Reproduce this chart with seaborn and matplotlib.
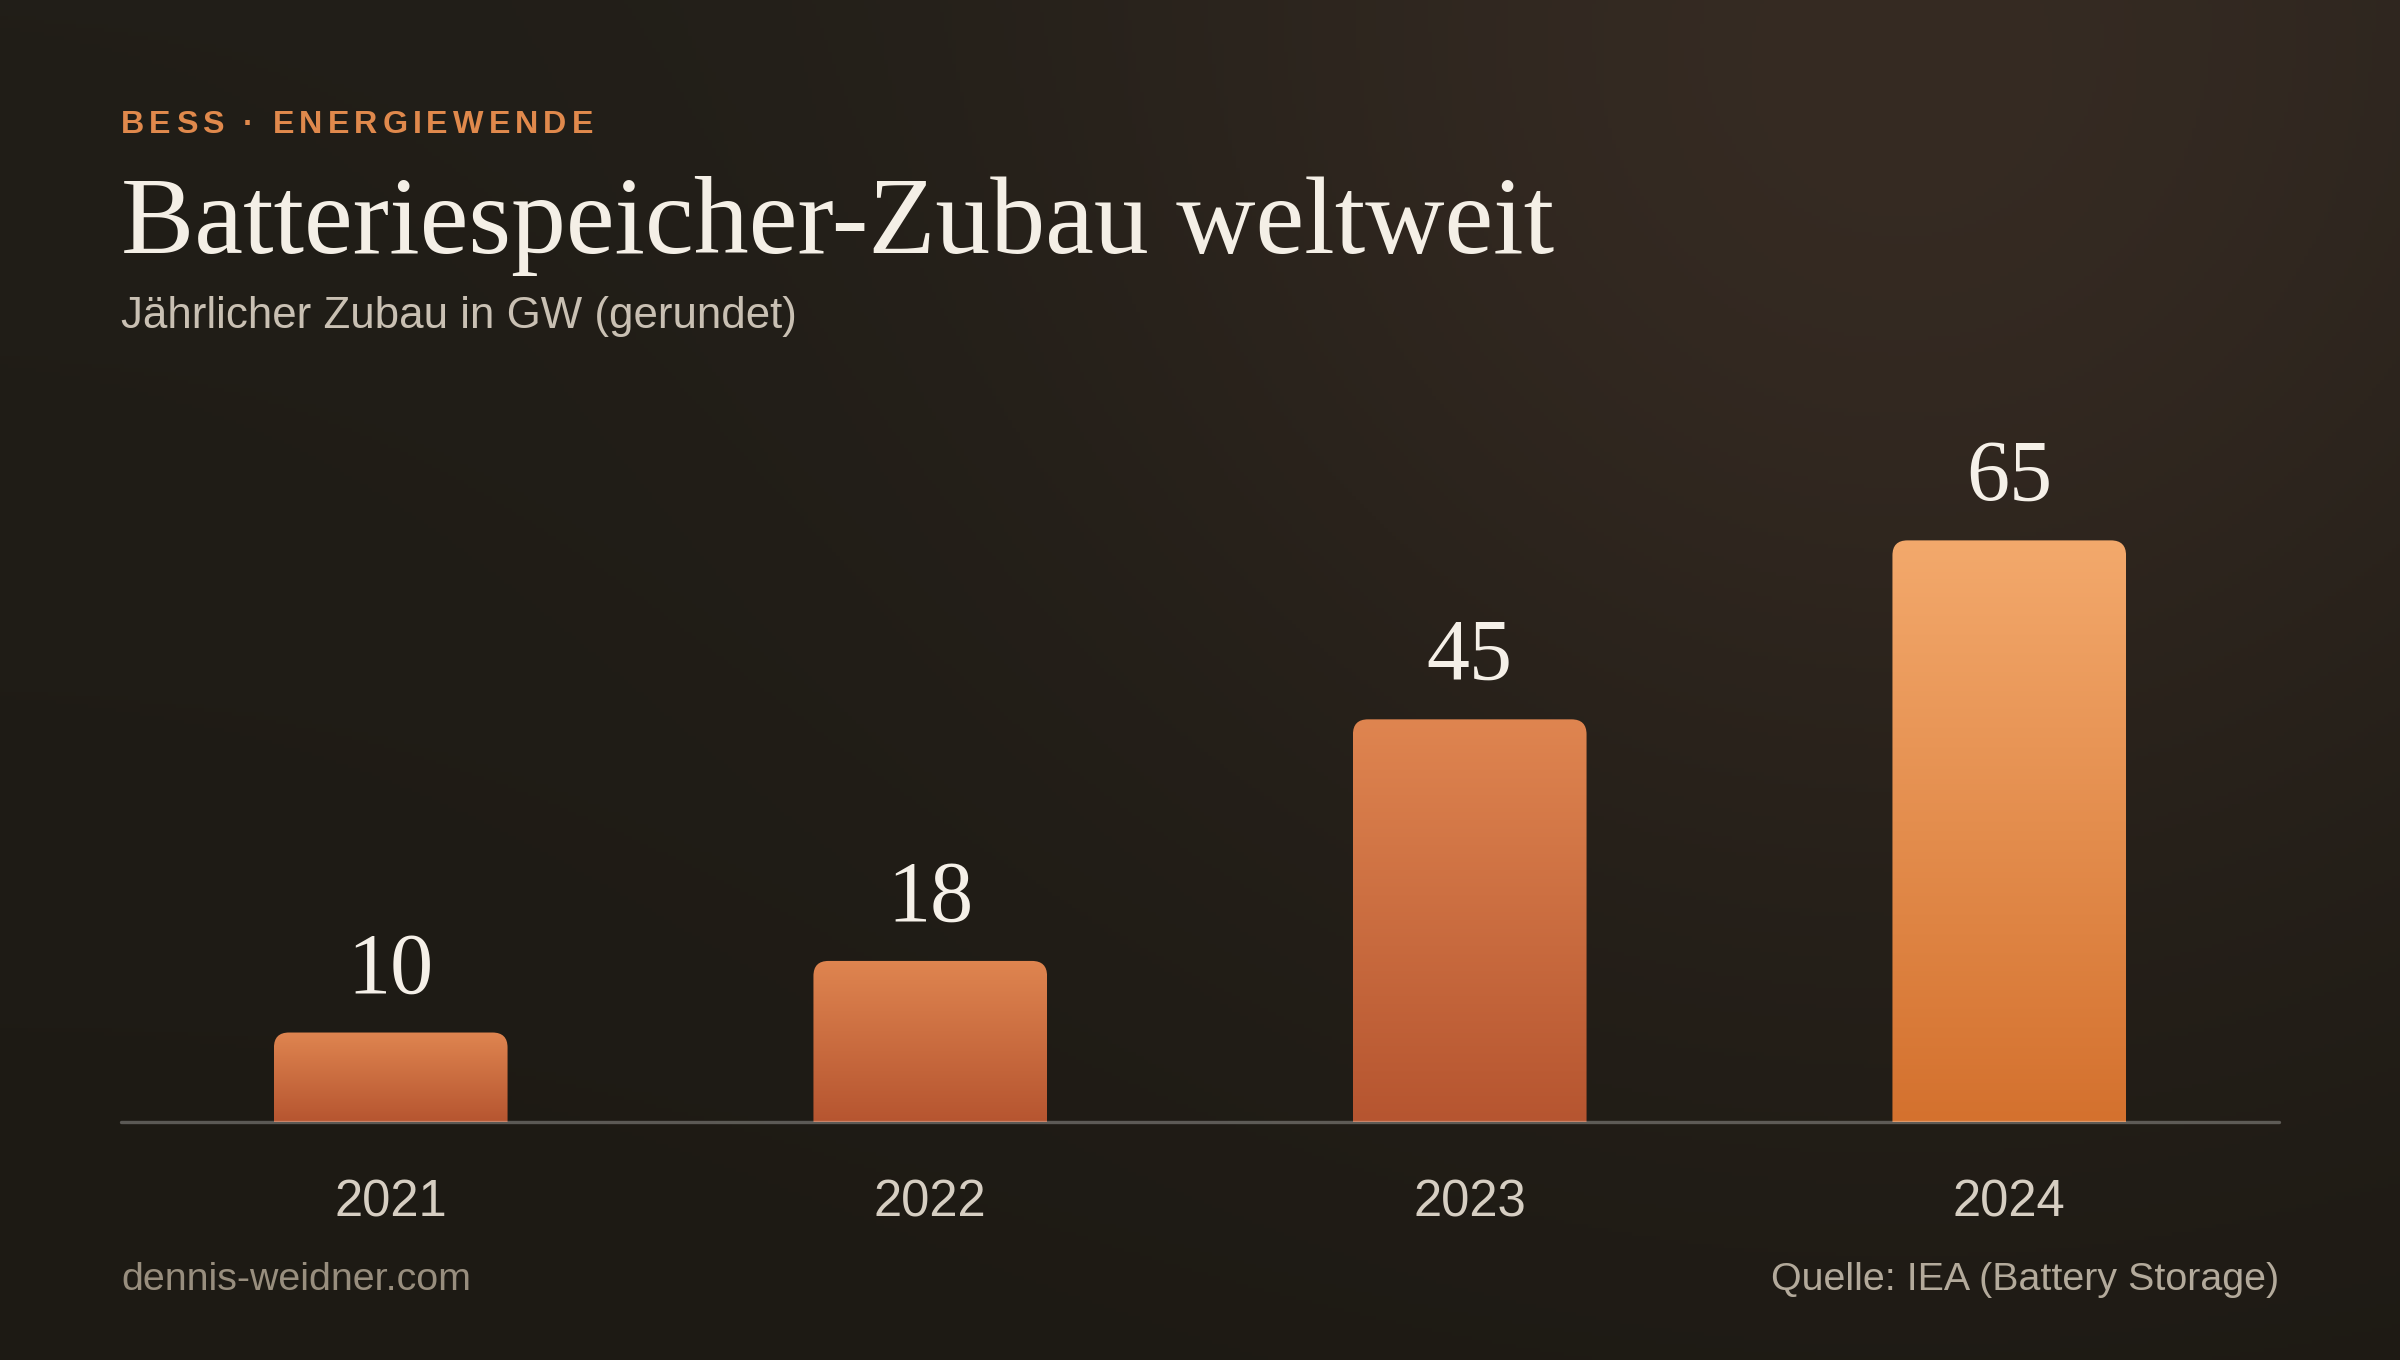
import numpy as np
import pandas as pd
import matplotlib
matplotlib.use("Agg")
import matplotlib.pyplot as plt
import seaborn as sns
from matplotlib.path import Path
from matplotlib.patches import PathPatch
from matplotlib.transforms import IdentityTransform

# ---------------- data ----------------
years = ["2021", "2022", "2023", "2024"]
values = [10, 18, 45, 65]

kicker = "BESS · ENERGIEWENDE"
title = "Batteriespeicher-Zubau weltweit"
subtitle = "Jährlicher Zubau in GW (gerundet)"
footer_left = "dennis-weidner.com"
footer_right = "Quelle: IEA (Battery Storage)"

# ---------------- figure ----------------
W, H, DPI = 2400, 1360, 200
sns.set_theme(style="white")
plt.rcParams["font.family"] = ["Liberation Sans", "DejaVu Sans"]
fig = plt.figure(figsize=(W / DPI, H / DPI), dpi=DPI)

# background gradient
bgax = fig.add_axes([0, 0, 1, 1], zorder=-10)
yy, xx = np.mgrid[0:H:4, 0:W:4].astype(float)
base = np.array([0x1d, 0x1a, 0x14], float)
glow = np.array([21, 13, 11], float)
d = np.hypot(xx - 1900, yy - 110)
f = np.exp(-(d / 800.0) ** 2)
vert = (1 - yy / H) * 4.0
img = base[None, None, :] + f[..., None] * glow[None, None, :] + vert[..., None]
bgax.imshow(np.clip(img / 255.0, 0, 1), extent=(0, 1, 0, 1), aspect="auto", origin="upper")
bgax.set_axis_off()

# main axes
x_left, x_right = 121, 2279
y_base = 1122
px_per_unit = 8.948
ymax = 80
ax_h = ymax * px_per_unit
ax = fig.add_axes([x_left / W, 1 - y_base / H, (x_right - x_left) / W, ax_h / H])
ax.set_facecolor("none")

df = pd.DataFrame({"year": years, "gw": values})
sns.barplot(data=df, x="year", y="gw", width=0.433, ax=ax, color="#D0703A")
ax.set_xlim(-0.5, 3.5)
ax.set_ylim(0, ymax)
for s in ax.spines.values():
    s.set_visible(False)
ax.set_yticks([])
ax.set_xlabel("")
ax.set_ylabel("")
ax.tick_params(axis="x", length=0, pad=20.5, labelsize=18.3, labelcolor="#D6CEC2")

grad_normal = ("#DF8550", "#B65530")
grad_high = ("#F3A96C", "#D4712E")

def hex2rgb(h):
    h = h.lstrip("#")
    return np.array([int(h[i:i + 2], 16) for i in (0, 2, 4)], float) / 255.0

fig.canvas.draw()
radius = 15
patches = list(ax.patches)
for i, p in enumerate(patches):
    bx0, by0 = p.get_x(), p.get_y()
    bx1, by1 = bx0 + p.get_width(), by0 + p.get_height()
    (dx0, dy0), (dx1, dy1) = ax.transData.transform([(bx0, by0), (bx1, by1)])
    r = min(radius, (dx1 - dx0) / 2, (dy1 - dy0))
    verts = [(dx0, dy0), (dx0, dy1 - r), (dx0, dy1), (dx0 + r, dy1),
             (dx1 - r, dy1), (dx1, dy1), (dx1, dy1 - r), (dx1, dy0), (dx0, dy0)]
    codes = [Path.MOVETO, Path.LINETO, Path.CURVE3, Path.CURVE3,
             Path.LINETO, Path.CURVE3, Path.CURVE3, Path.LINETO, Path.CLOSEPOLY]
    clip = PathPatch(Path(verts, codes), transform=IdentityTransform(),
                     facecolor="none", edgecolor="none")
    ax.add_artist(clip)
    top, bot = grad_high if i == len(patches) - 1 else grad_normal
    t = np.linspace(0, 1, 256)[:, None]
    grad = hex2rgb(top)[None, :] * (1 - t) + hex2rgb(bot)[None, :] * t
    im = ax.imshow(grad[:, None, :], extent=(bx0, bx1, by0, by1), aspect="auto",
                   origin="upper", zorder=2, interpolation="bilinear")
    im.set_clip_path(clip)
    p.set_visible(False)

ax.set_xlim(-0.5, 3.5)
ax.set_ylim(0, ymax)

# value labels
for p, v in zip(patches, values):
    ax.annotate(f"{v}", xy=(p.get_x() + p.get_width() / 2, p.get_height()),
                xytext=(0, 14.5), textcoords="offset points", ha="center",
                va="baseline", fontsize=31, family=["Liberation Serif", "DejaVu Serif"],
                color="#F5F0E8", zorder=4)

# baseline
ax.axhline(0, color="white", alpha=0.28, lw=1.2, zorder=5, clip_on=False)

# ---------------- texts ----------------
renderer = fig.canvas.get_renderer()

def text_width(s, **kw):
    t = fig.text(0, 0, s, **kw)
    w = t.get_window_extent(renderer).width
    t.remove()
    return w

# title fitted to width
title_kw = dict(family=["Liberation Serif", "DejaVu Serif"], color="#F4EFE6")
fs = 36
w0 = text_width(title, fontsize=fs, **title_kw)
fs = fs * 1434 / w0
fig.text(x_left / W, 1 - 253 / H, title, fontsize=fs, va="baseline", ha="left", **title_kw)

# kicker with letter spacing
kick_kw = dict(fontsize=11.6, fontweight="bold", color="#E0894C",
               family=["Liberation Sans", "DejaVu Sans"])
bar_w = text_width("|", **kick_kw)
nat = [0.0] + [text_width(kicker[:i] + "|", **kick_kw) - bar_w for i in range(1, len(kicker))]
total_nat = text_width(kicker, **kick_kw)
spacing = (472 - total_nat) / (len(kicker) - 1)
for i, ch in enumerate(kicker):
    if ch == " ":
        continue
    xp = x_left + nat[i] + i * spacing
    fig.text(xp / W, 1 - 133 / H, ch, va="baseline", ha="left", **kick_kw)

fig.text(x_left / W, 1 - 328 / H, subtitle, fontsize=15.8, color="#C9C0B3",
         va="baseline", ha="left")

fig.text(x_left / W, 1 - 1290 / H, footer_left, fontsize=14.2, color="#988E7E",
         va="baseline", ha="left")
fig.text(x_right / W, 1 - 1290 / H, footer_right, fontsize=14.2, color="#B3AA9B",
         va="baseline", ha="right")

fig.savefig("out.png", dpi=DPI)
